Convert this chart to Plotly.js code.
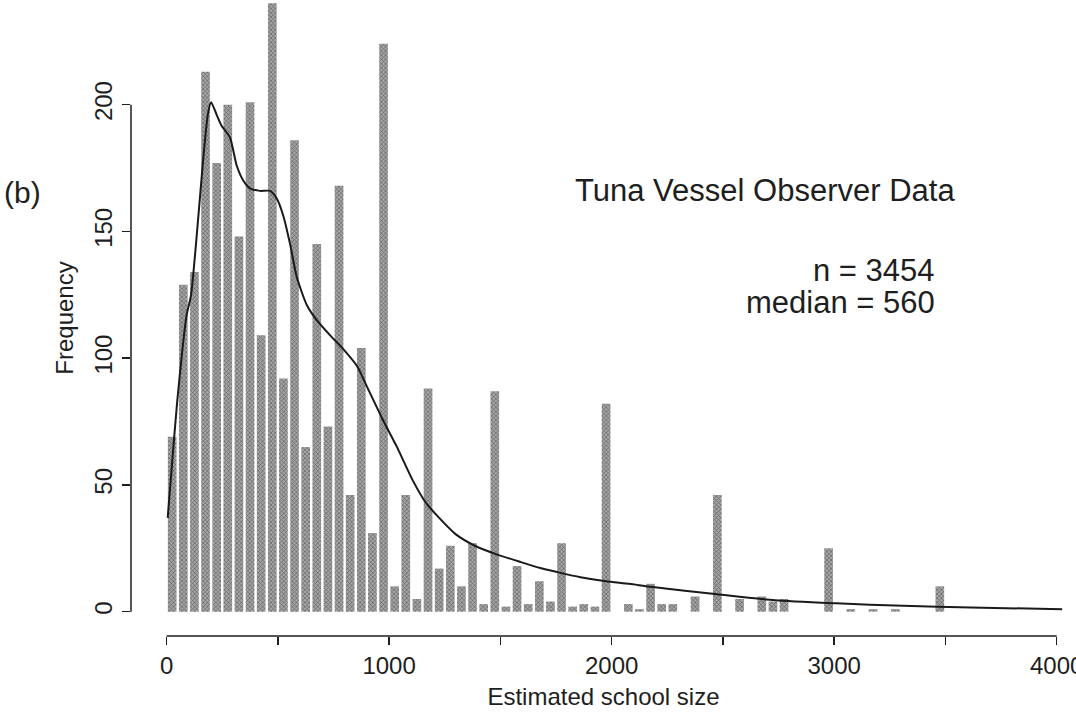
<!DOCTYPE html>
<html>
<head>
<meta charset="utf-8">
<script src="https://cdn.plot.ly/plotly-3.0.1.min.js"></script>
<style>
  html, body { margin: 0; padding: 0; background: #ffffff; }
  #chart { width: 1076px; height: 717px; }
</style>
</head>
<body>
<div id="chart"></div>
<script>
// ---- data ----
const binWidth = 50;
const binLeft = [
  0, 50, 100, 150, 200, 250, 300, 350, 400, 450,
  500, 550, 600, 650, 700, 750, 800, 850, 900, 950,
  1000, 1050, 1100, 1150, 1200, 1250, 1300, 1350, 1400, 1450,
  1500, 1550, 1600, 1650, 1700, 1750, 1800, 1850, 1900, 1950,
  2000, 2050, 2100, 2150, 2200, 2250, 2300, 2350, 2400, 2450,
  2500, 2550, 2600, 2650, 2700, 2750, 2800, 2850, 2900, 2950,
  3000, 3050, 3100, 3150, 3200, 3250, 3300, 3350, 3400, 3450,
  3500, 3550, 3600, 3650, 3700, 3750, 3800, 3850, 3900, 3950
];
const counts = [
  69, 129, 134, 213, 177, 200, 148, 201, 109, 240,
  92, 186, 65, 145, 73, 168, 46, 104, 31, 224,
  10, 46, 5, 88, 17, 26, 10, 27, 3, 87,
  2, 18, 3, 12, 4, 27, 2, 3, 2, 82,
  0, 3, 1, 11, 3, 3, 0, 6, 0, 46,
  0, 5, 0, 6, 4, 5, 0, 0, 0, 25,
  0, 1, 0, 1, 0, 1, 0, 0, 0, 10,
  0, 0, 0, 0, 0, 0, 0, 0, 0, 0
];
const curveX = [5, 50, 90, 110, 135, 165, 185, 200, 225, 245, 285, 315, 345, 375, 420, 465, 495, 525, 555, 585,
  630, 675, 735, 790, 855, 910, 970, 1035, 1105, 1165, 1225, 1300, 1390, 1480, 1590, 1680, 1770, 1860, 1975,
  2080, 2175, 2475, 2735, 3010, 3310, 3615, 4025];
const curveY = [37, 85, 117, 125, 148, 179, 196, 201, 196, 192, 187, 176, 170, 167, 166, 166, 163, 156, 145, 132,
  121, 115, 109, 104, 97, 87, 76, 65, 52, 43, 37, 30.5, 25.8, 22.7, 19.6, 17.2, 15.3, 13.6, 12,
  11, 9.8, 6.9, 4.5, 3.3, 2.3, 1.6, 1.0];
const xTickVals = [0, 500, 1000, 1500, 2000, 2500, 3000, 3500, 4000];
const xTickText = ['0', '', '1000', '', '2000', '', '3000', '', '4000'];
const yTickVals = [0, 50, 100, 150, 200];
const yTickText = ['0', '50', '100', '150', '200'];
const labelPanel = '(b)';
const labelTitle = 'Tuna Vessel Observer Data';
const labelN = 'n = 3454';
const labelMedian = 'median = 560';
const xTitle = 'Estimated school size';
const yTitle = 'Frequency';

// ---- traces ----
const binMid = binLeft.map(v => v + binWidth / 2);
const FONT = 'Liberation Sans, Arial, Helvetica, sans-serif';
const INK = '#1e1e1e';

const bars = {
  type: 'bar',
  x: binMid,
  y: counts,
  width: binWidth * 0.78,
  marker: {
    color: '#8a8a8a',
    line: { width: 0 },
    pattern: { shape: 'x', size: 3, solidity: 0.35, fgcolor: '#5a5a5a', bgcolor: '#a4a4a4' }
  },
  hoverinfo: 'x+y'
};
const curve = {
  type: 'scatter',
  mode: 'lines',
  x: curveX,
  y: curveY,
  line: { color: '#1a1a1a', width: 2, shape: 'spline', smoothing: 0.6 },
  hoverinfo: 'skip'
};

const layout = {
  width: 1076,
  height: 717,
  margin: { l: 131, r: 0, t: 0, b: 81 },
  paper_bgcolor: '#ffffff',
  plot_bgcolor: '#ffffff',
  showlegend: false,
  font: { family: FONT, color: INK, size: 25 },
  xaxis: {
    range: [-160, 4087],
    showgrid: false, zeroline: false, showline: false,
    tickmode: 'array', tickvals: xTickVals, ticktext: xTickText,
    ticks: 'outside', ticklen: 8, tickwidth: 1.5, tickcolor: INK,
    ticklabeloverflow: 'allow',
    tickfont: { family: FONT, size: 24, color: INK },
    title: { text: xTitle, font: { family: FONT, size: 24, color: INK }, standoff: 10 },
    automargin: false
  },
  yaxis: {
    range: [-9.6, 241.3],
    showgrid: false, zeroline: false, showline: false,
    tickmode: 'array', tickvals: yTickVals, ticktext: yTickText,
    ticks: 'outside', ticklen: 8, tickwidth: 1.5, tickcolor: INK,
    tickangle: -90,
    tickfont: { family: FONT, size: 24, color: INK },
    title: { text: yTitle, font: { family: FONT, size: 24, color: INK }, standoff: 10 },
    automargin: false
  },
  shapes: [
    { type: 'line', xref: 'x', yref: 'paper', x0: xTickVals[0], x1: xTickVals[xTickVals.length - 1], y0: 0, y1: 0,
      line: { color: INK, width: 1.5 } },
    { type: 'line', xref: 'paper', yref: 'y', x0: 0, x1: 0, y0: yTickVals[0], y1: yTickVals[yTickVals.length - 1],
      line: { color: INK, width: 1.5 } }
  ],
  annotations: [
    { text: labelPanel, xref: 'paper', yref: 'paper', x: -0.115, y: 0.698, xanchor: 'center', yanchor: 'middle',
      showarrow: false, font: { family: FONT, size: 30, color: INK } },
    { text: labelTitle, xref: 'paper', yref: 'paper', x: 0.671, y: 0.701, xanchor: 'center', yanchor: 'middle',
      showarrow: false, font: { family: FONT, size: 31, color: INK } },
    { text: labelN, xref: 'paper', yref: 'paper', x: 0.853, y: 0.575, xanchor: 'right', yanchor: 'middle',
      showarrow: false, font: { family: FONT, size: 31, color: INK } },
    { text: labelMedian, xref: 'paper', yref: 'paper', x: 0.853, y: 0.525, xanchor: 'right', yanchor: 'middle',
      showarrow: false, font: { family: FONT, size: 31, color: INK } }
  ]
};

Plotly.newPlot('chart', [bars, curve], layout, { staticPlot: true, displayModeBar: false });
</script>
</body>
</html>
